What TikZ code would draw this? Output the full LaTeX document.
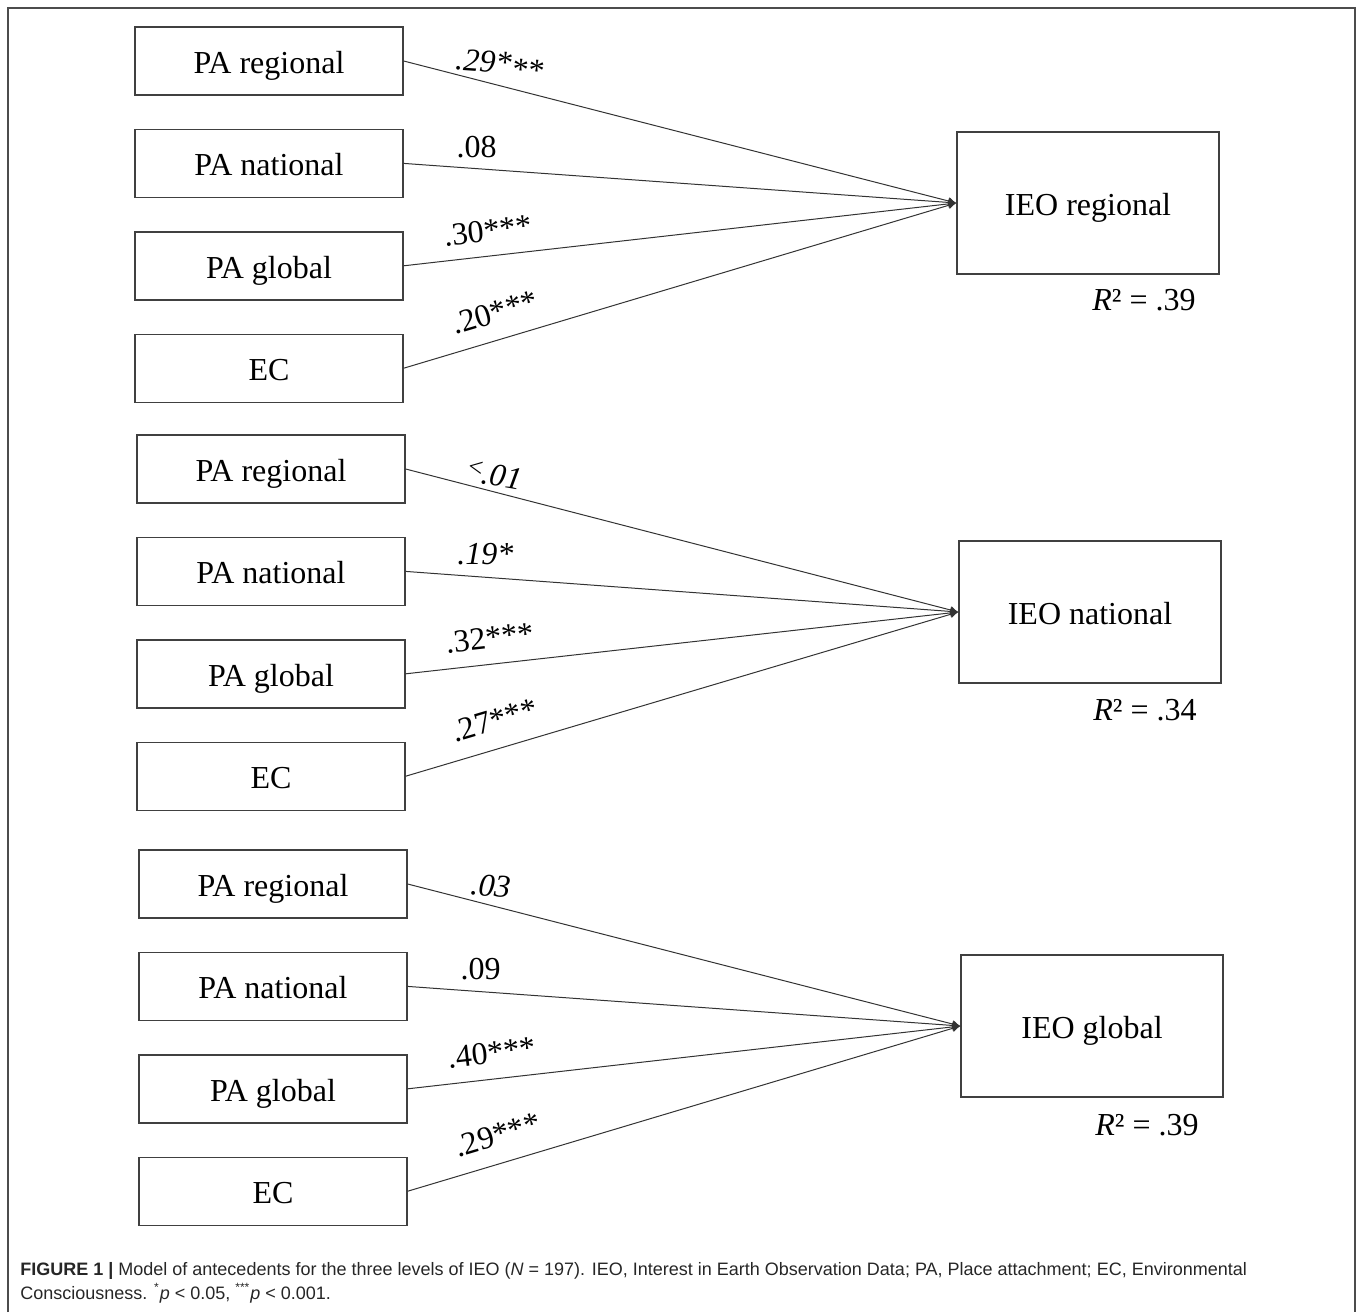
\documentclass[tikz,border=0pt]{standalone}
\usepackage{fontspec}
\setmainfont{Liberation Serif}
\newfontfamily\capfont{Liberation Sans}
\usetikzlibrary{positioning, arrows.meta}

\begin{document}
\begin{tikzpicture}[x=0.5pt, y=-0.5pt, node distance=16.5pt,
    predictor/.style={draw=black!75, line width=0.7pt, minimum width=134pt,
        minimum height=34pt, inner sep=0pt, text height=16pt, text depth=3.5pt,
        font=\fontsize{16}{18}\selectfont},
    outcome/.style={draw=black!75, line width=0.7pt, minimum width=131pt,
        minimum height=71pt, inner sep=0pt, text height=16pt, text depth=3.5pt,
        font=\fontsize{16}{18}\selectfont},
    effect/.style={draw=black!80, line width=0.5pt, -{Latex[length=4pt,width=4pt]}},
    coef/.style={font=\fontsize{16}{18}\selectfont, inner sep=1pt},
    rsq/.style={font=\fontsize{16}{18}\selectfont}]
    \useasboundingbox (0,0) rectangle (1358,1312);
    \draw[black!70, line width=1pt] (8,1312) -- (8,8) -- (1355,8) -- (1355,1312);

    % IEO regional
    \node[predictor] (reg1) at (269,61) {PA regional};
    \node[predictor, below=of reg1] (nat1) {PA national};
    \node[predictor, below=of nat1] (glo1) {PA global};
    \node[predictor, below=of glo1] (ec1) {EC};
    \node[outcome] (ieo1) at (1088,203) {IEO regional};
    \node[rsq] (rsq1) at (1144,300) {\textit{R}² = .39};
    \draw[effect] (reg1.east) -- node[coef, pos=0.171, above=2pt, rotate=-4] (b11)
        {\textit{.29*\raisebox{-3pt}{**}}} (ieo1.west);
    \draw[effect] (nat1.east) -- node[coef, pos=0.132, above=4pt] (b12) {.08} (ieo1.west);
    \draw[effect] (glo1.east) -- node[coef, pos=0.157, above=6pt, sloped] (b13) {.30***} (ieo1.west);
    \draw[effect] (ec1.east) -- node[coef, pos=0.179, above=7pt, sloped] (b14) {.20***} (ieo1.west);

    % IEO national
    \node[predictor] (reg2) at (271,469) {PA regional};
    \node[predictor, below=of reg2] (nat2) {PA national};
    \node[predictor, below=of nat2] (glo2) {PA global};
    \node[predictor, below=of glo2] (ec2) {EC};
    \node[outcome] (ieo2) at (1090,612) {IEO national};
    \node[rsq] (rsq2) at (1145,710) {\textit{R}² = .34};
    \draw[effect] (reg2.east) -- node[coef, pos=0.157, above=1.5pt, rotate=-10] (b21)
        {\raisebox{3pt}{\fontsize{13}{13}\selectfont<}\textit{.01}} (ieo2.west);
    \draw[effect] (nat2.east) -- node[coef, pos=0.144, above=5pt] (b22) {\textit{.19*}} (ieo2.west);
    \draw[effect] (glo2.east) -- node[coef, pos=0.157, above=6.5pt, sloped] (b23) {.32***} (ieo2.west);
    \draw[effect] (ec2.east) -- node[coef, pos=0.175, above=7.5pt, sloped] (b24) {.27***} (ieo2.west);

    % IEO global
    \node[predictor] (reg3) at (273,884) {PA regional};
    \node[predictor, below=of reg3] (nat3) {PA national};
    \node[predictor, below=of nat3] (glo3) {PA global};
    \node[predictor, below=of glo3] (ec3) {EC};
    \node[outcome] (ieo3) at (1092,1026) {IEO global};
    \node[rsq] (rsq3) at (1147,1125) {\textit{R}² = .39};
    \draw[effect] (reg3.east) -- node[coef, pos=0.148, above=3pt, rotate=-5] (b31) {\textit{.03}} (ieo3.west);
    \draw[effect] (nat3.east) -- node[coef, pos=0.132, above=4.5pt] (b32) {.09} (ieo3.west);
    \draw[effect] (glo3.east) -- node[coef, pos=0.157, above=6.5pt, sloped] (b33) {.40***} (ieo3.west);
    \draw[effect] (ec3.east) -- node[coef, pos=0.177, above=7.5pt, sloped] (b34) {.29***} (ieo3.west);

    % caption
    \node[anchor=north west, align=left, inner sep=0pt, text=black!85,
        font=\capfont\fontsize{9}{11.8}\selectfont] (caption) at (20,1262)
        {\textbf{FIGURE 1 |} Model of antecedents for the three levels of IEO (\textit{N} = 197). IEO, Interest in Earth Observation Data; PA, Place attachment; EC, Environmental\\
        Consciousness. \textsuperscript{*}\textit{p} < 0.05, \textsuperscript{***}\textit{p} < 0.001.};
\end{tikzpicture}
\end{document}
